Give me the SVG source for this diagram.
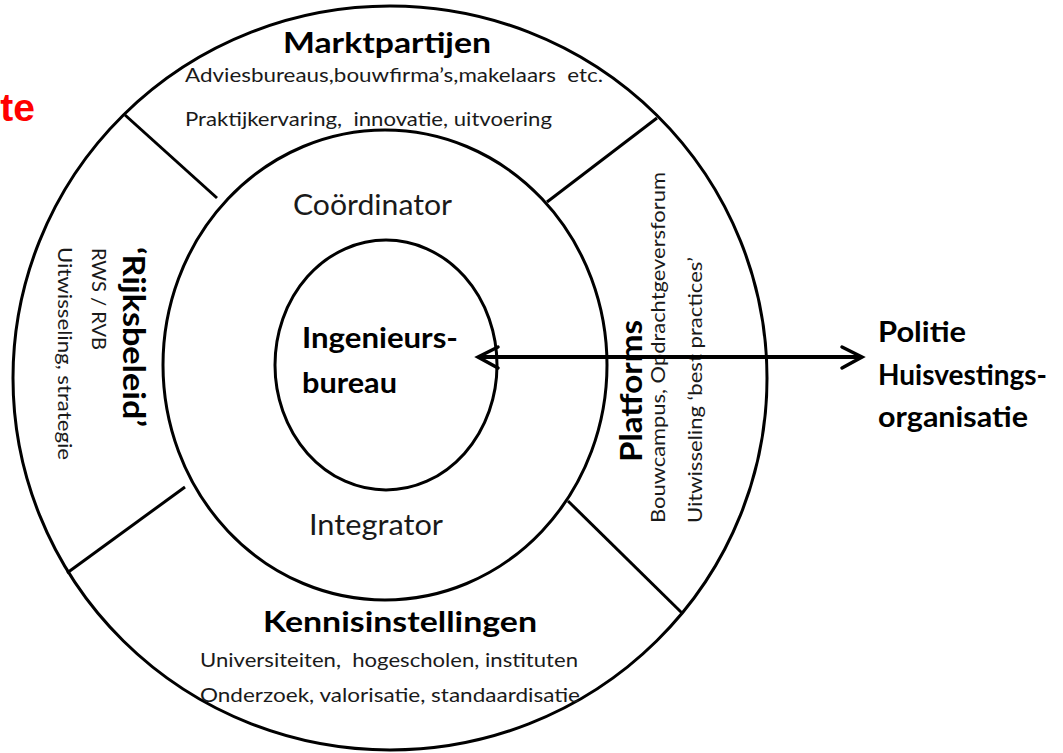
<svg xmlns="http://www.w3.org/2000/svg" width="1063" height="753" viewBox="0 0 1063 753">
  <defs>
    <style>
      .ring { fill: none; stroke: #000; stroke-width: 3; }
      .div { stroke: #000; stroke-width: 3; fill: none; }
      .t { font-family: Lato, "Liberation Sans", sans-serif; fill: #1a1a1a; }
      .b { font-family: Lato, "Liberation Sans", sans-serif; font-weight: bold; fill: #000; }
      .s { font-size: 20px; }
      .m { font-size: 28px; }
      .h { font-size: 29px; }
      .r { font-size: 31px; }
      .conn { stroke: #000; stroke-width: 4; fill: none; }
      .head { stroke: #000; stroke-width: 3.5; fill: none; stroke-linecap: round; stroke-linejoin: miter; }
    </style>
  </defs>
  <rect width="1063" height="753" fill="#fff"/>

  <text x="35" y="121" text-anchor="end" font-family="Liberation Sans, Arial, sans-serif" font-weight="bold" font-size="39" fill="#ff0000">te</text>

  <g id="rings">
    <ellipse class="ring" cx="390" cy="378" rx="377" ry="372"/>
    <ellipse class="ring" cx="385" cy="365" rx="222" ry="235"/>
    <line class="div" x1="125" y1="115" x2="217" y2="198"/>
    <line class="div" x1="657" y1="118" x2="547" y2="202"/>
    <line class="div" x1="67" y1="573" x2="185" y2="487"/>
    <line class="div" x1="568" y1="501" x2="682" y2="613"/>
  </g>

  <g id="marktpartijen">
    <text class="b h" x="283" y="53" textLength="208" lengthAdjust="spacingAndGlyphs">Marktpartijen</text>
    <text class="t s" x="185" y="82" textLength="418" lengthAdjust="spacingAndGlyphs" xml:space="preserve">Adviesbureaus,bouwfirma’s,makelaars  etc.</text>
    <text class="t s" x="185" y="126" textLength="367" lengthAdjust="spacingAndGlyphs" xml:space="preserve">Praktijkervaring,  innovatie, uitvoering</text>
  </g>

  <g id="rijksbeleid">
    <text class="b r" transform="translate(123 247) rotate(90)" textLength="180" lengthAdjust="spacingAndGlyphs">‘Rijksbeleid’</text>
    <text class="t s" transform="translate(92 248) rotate(90)" textLength="102" lengthAdjust="spacingAndGlyphs">RWS / RVB</text>
    <text class="t s" transform="translate(58 247) rotate(90)" textLength="213" lengthAdjust="spacingAndGlyphs">Uitwisseling, strategie</text>
  </g>

  <g id="platforms">
    <text class="b r" transform="translate(642 462) rotate(-90)" textLength="142" lengthAdjust="spacingAndGlyphs">Platforms</text>
    <text class="t s" transform="translate(665 523) rotate(-90)" textLength="351" lengthAdjust="spacingAndGlyphs">Bouwcampus, Opdrachtgeversforum</text>
    <text class="t s" transform="translate(702 523) rotate(-90)" textLength="266" lengthAdjust="spacingAndGlyphs">Uitwisseling ‘best practices’</text>
  </g>

  <g id="kennisinstellingen">
    <text class="b h" x="263" y="632" textLength="274" lengthAdjust="spacingAndGlyphs">Kennisinstellingen</text>
    <text class="t s" x="200" y="667" textLength="378" lengthAdjust="spacingAndGlyphs" xml:space="preserve">Universiteiten,  hogescholen, instituten</text>
    <text class="t s" x="200" y="702" textLength="380" lengthAdjust="spacingAndGlyphs">Onderzoek, valorisatie, standaardisatie</text>
  </g>

  <g id="coordinator-integrator">
    <text class="t m" x="293" y="215" textLength="159" lengthAdjust="spacingAndGlyphs">Coördinator</text>
    <text class="t m" x="309" y="535" textLength="134" lengthAdjust="spacingAndGlyphs">Integrator</text>
  </g>

  <g id="ingenieursbureau">
    <ellipse class="ring" cx="386" cy="365" rx="111" ry="125"/>
    <text class="b m" x="302" y="348" textLength="156" lengthAdjust="spacingAndGlyphs">Ingenieurs-</text>
    <text class="b m" x="302" y="393" textLength="95" lengthAdjust="spacingAndGlyphs">bureau</text>
  </g>

  <g id="politie">
    <text class="b m" x="878" y="342" textLength="88" lengthAdjust="spacingAndGlyphs">Politie</text>
    <text class="b m" x="878" y="385" textLength="169" lengthAdjust="spacingAndGlyphs">Huisvestings-</text>
    <text class="b m" x="878" y="427" textLength="150" lengthAdjust="spacingAndGlyphs">organisatie</text>
  </g>

  <g id="connectors">
    <line class="conn" x1="479" y1="357" x2="860" y2="357"/>
    <polyline class="head" points="498,347 478,357 498,368"/>
    <polyline class="head" points="842,347 862,357 842,368"/>
  </g>
</svg>
